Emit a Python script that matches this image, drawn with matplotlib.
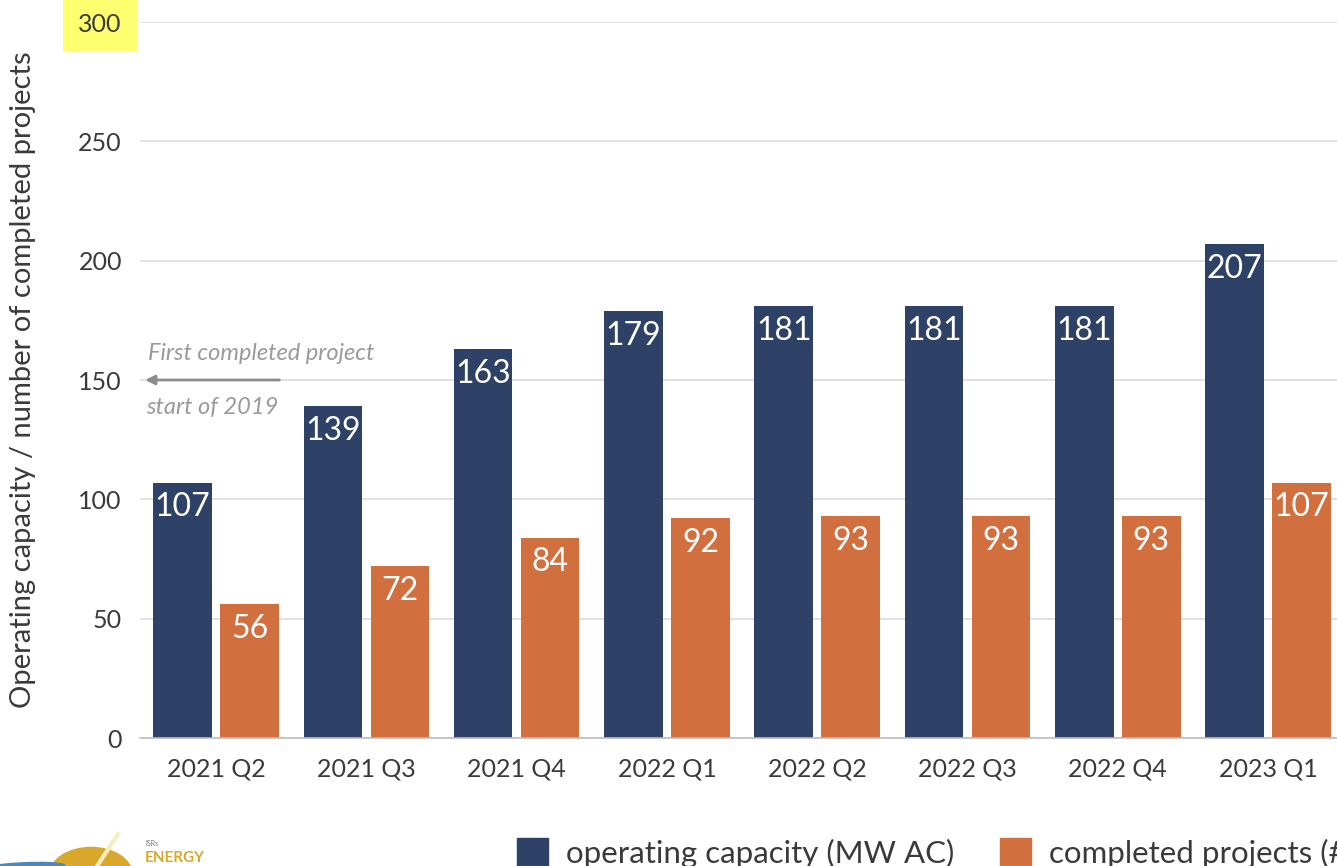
import matplotlib.pyplot as plt
import matplotlib.patches as mpatches
import numpy as np

plt.rcParams['font.family'] = ['Lato', 'DejaVu Sans']

# data
quarters = ['2021 Q2', '2021 Q3', '2021 Q4', '2022 Q1', '2022 Q2', '2022 Q3', '2022 Q4', '2023 Q1']
capacity = [107, 139, 163, 179, 181, 181, 181, 207]
projects = [56, 72, 84, 92, 93, 93, 93, 107]
yticks = [0, 50, 100, 150, 200, 250, 300]

navy = '#2D4266'
orange = '#D26F3F'
txt = '#3a3a3a'

fig = plt.figure(figsize=(13.37, 8.66), dpi=100)
ax = fig.add_axes([140/1337, 128/866, 1197/1337, 716/866])

x = np.arange(len(quarters))
w = 0.39
off = 0.223
b1 = ax.bar(x - off, capacity, w, color=navy, zorder=3)
b2 = ax.bar(x + off, projects, w, color=orange, zorder=3)

for bars, vals in [(b1, capacity), (b2, projects)]:
    for r, v in zip(bars, vals):
        ax.annotate(str(v), (r.get_x() + r.get_width()/2, v), xytext=(0, -7),
                    textcoords='offset points', ha='center', va='top',
                    color='white', fontsize=23, zorder=4)

ax.set_xlim(-0.506, 7.459)
ax.set_ylim(0, 300)
ax.set_yticks(yticks)
ax.set_xticks(x)
ax.set_xticklabels(quarters)
ax.tick_params(axis='both', length=0, labelsize=18, colors=txt)
ax.tick_params(axis='y', pad=13)
ax.tick_params(axis='x', pad=14)
ax.grid(axis='y', color='#dcdcdc', linewidth=1.2, zorder=0)
for s in ['top', 'right', 'left']:
    ax.spines[s].set_visible(False)
ax.spines['bottom'].set_color('#bdbdbd')
ax.spines['bottom'].set_linewidth(1.2)
ax.spines['bottom'].set_zorder(5)

ax.get_yticklabels()[-1].set_bbox(dict(facecolor='#FFFF70', edgecolor='none', pad=11))

ax.set_ylabel('Operating capacity / number of completed projects', fontsize=21,
              color=txt)
ax.yaxis.set_label_coords(-0.087, 0.5)

# annotation
ax.annotate('', xy=(-0.49, 150), xytext=(0.44, 150),
            arrowprops=dict(arrowstyle='-|>', color='#8c8c8c', lw=2, mutation_scale=14),
            zorder=4)
ax.text(-0.455, 161, 'First completed project', style='italic', color='#9a9a9a',
        fontsize=17, va='center', ha='left')
ax.text(-0.465, 138.5, 'start of 2019', style='italic', color='#9a9a9a',
        fontsize=17, va='center', ha='left')

# legend
h1 = mpatches.Patch(color=navy)
h2 = mpatches.Patch(color=orange)
fig.legend([h1, h2], ['operating capacity (MW AC)', 'completed projects (#)'],
           loc='upper left', bbox_to_anchor=(489/1337, 1 - 810/866), ncol=2,
           frameon=False, fontsize=22.5, handlelength=1.0, handleheight=1.0,
           handletextpad=0.58, columnspacing=1.45, labelcolor=txt)

# logo (bottom left)
fig.patches.append(mpatches.Circle((91/1337, 1 - 874/866), 41/1337, color='#D9A82B',
                                   transform=fig.transFigure, figure=fig))
fig.lines.append(plt.Line2D([75/1337, 118/1337], [1 - 900/866, 1 - 834/866], color='#f4eec0',
                            lw=3, transform=fig.transFigure, figure=fig))
fig.patches.append(mpatches.Ellipse((20/1337, 1 - 868/866), 90/1337, 10/866, angle=5,
                                    color='#4f86b8', transform=fig.transFigure, figure=fig))
fig.text(145/1337, 1 - 843/866, 'ISRs', fontsize=5, color='#777777', va='center')
fig.text(145/1337, 1 - 858/866, 'ENERGY', fontsize=11, color='#D9A82B', va='center',
         fontweight='bold')

fig.savefig('out.png', dpi=100)
